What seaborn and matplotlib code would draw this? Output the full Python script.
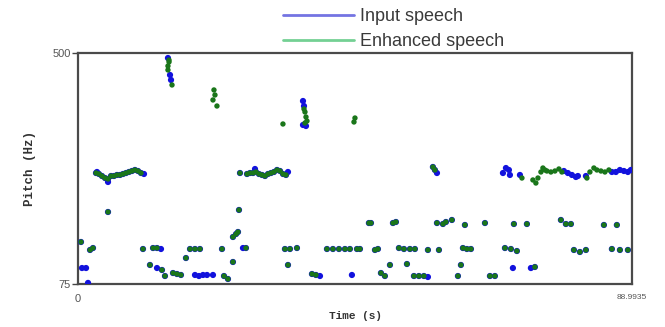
import matplotlib
matplotlib.use("Agg")
import matplotlib.pyplot as plt
import seaborn as sns
from matplotlib.lines import Line2D

# pitch tracks (time in s, pitch in Hz)
# points where both tracks sit on top of each other
shared_time = [
    2.89, 3.37, 3.85, 4.34, 4.82, 5.30, 5.78, 6.26, 6.75, 7.23, 7.71, 8.19, 8.67, 9.15, 9.64, 10.12,
    26.02, 27.15, 27.63, 28.11, 28.59, 29.07, 29.56, 30.04, 30.52, 31.00, 31.48, 31.97, 32.45, 32.93, 33.41,
    57.01, 57.33,
    0.48, 1.93, 2.41, 10.44, 12.05, 12.69, 11.56, 13.49, 13.97, 15.26, 15.90, 16.54, 17.34, 17.99, 18.79,
    19.59, 23.13, 23.45, 24.09, 24.89, 24.89, 25.39, 25.70, 26.98, 33.24, 34.05, 35.17, 33.73, 37.58, 38.22,
    39.99, 40.95, 41.92, 42.88, 43.68, 44.81, 46.73, 47.06, 50.59, 51.07, 45.29, 47.70, 48.18, 51.55, 52.36,
    53.32, 54.12, 56.21, 57.98, 61.83, 62.47, 63.12, 50.11, 52.84, 48.66, 49.30, 53.96, 54.76, 55.57, 61.03,
    61.51, 57.66, 58.62, 59.10, 60.06, 62.15, 65.37, 66.17, 66.97, 70.02, 72.11, 77.57, 78.37, 79.18, 84.48,
    86.56, 68.58, 69.54, 70.50, 79.66, 80.62, 81.59, 85.76, 87.05, 88.33, 73.39,
    4.82, 25.86,
]
shared_pitch = [
    279.2, 277.4, 273.7, 270.0, 268.2, 273.7, 273.7, 275.6, 275.6, 277.4, 279.2, 281.1, 282.9, 284.8, 282.9, 279.2,
    279.2, 277.4, 279.2, 279.2, 281.1, 277.4, 275.6, 273.7, 277.4, 279.2, 281.1, 284.8, 282.9, 277.4, 275.6,
    290.3, 284.8,
    152.3, 137.6, 141.2, 139.4, 141.2, 141.2, 110.0, 100.8, 89.7, 95.2, 93.4, 91.6, 122.8, 139.4, 139.4,
    139.4, 139.4, 89.7, 84.2, 115.5, 161.5, 167.0, 170.7, 141.2, 139.4, 139.4, 141.2, 110.0, 93.4, 91.6,
    139.4, 139.4, 139.4, 139.4, 139.4, 139.4, 187.2, 187.2, 187.2, 189.1, 139.4, 137.6, 139.4, 141.2, 139.4,
    139.4, 139.4, 137.6, 137.6, 141.2, 139.4, 139.4, 110.0, 111.8, 95.2, 89.7, 89.7, 89.7, 89.7, 89.7,
    110.0, 187.2, 185.4, 189.1, 192.8, 183.6, 187.2, 89.7, 89.7, 185.4, 185.4, 192.8, 185.4, 185.4, 183.6,
    183.6, 141.2, 139.4, 135.7, 137.6, 133.9, 137.6, 139.4, 137.6, 137.6, 106.3,
    207.5, 211.2,
]

# points where only the input track shows
input_time = [
    3.05, 4.82, 10.60, 28.43, 33.73, 57.66,
    68.26, 68.74, 69.22, 69.38, 70.99, 78.05, 78.69, 79.34, 79.98, 80.30, 81.59,
    85.76, 86.40, 87.05, 87.69, 88.33, 88.81,
    14.45, 14.78, 14.94, 36.14, 36.30, 36.14, 36.62,
    0.64, 1.29, 1.61, 13.33, 12.69, 18.79, 19.43, 20.08, 20.72, 21.68, 26.50, 38.87, 44.00, 56.21,
    69.86, 72.75,
]
input_pitch = [
    281.1, 262.7, 277.4, 286.6, 281.1, 279.2,
    279.2, 288.4, 284.8, 275.6, 275.6, 282.9, 279.2, 275.6, 271.9, 273.7, 273.7,
    281.1, 281.1, 284.8, 282.9, 281.1, 284.8,
    490.8, 459.6, 450.4, 411.7, 402.5, 367.6, 365.7,
    104.4, 104.4, 77.0, 139.4, 104.4, 91.6, 89.7, 91.6, 91.6, 91.6, 141.2, 89.7, 91.6, 87.9,
    104.4, 104.4,
]

# points where only the enhanced track shows
enhanced_time = [
    71.31, 73.07, 73.55, 73.88, 74.36, 74.68, 75.00, 75.32, 75.96, 76.61, 77.25, 77.73,
    81.75, 82.23, 82.87, 83.35, 84.00, 84.64, 85.28,
    14.62, 14.62, 14.45, 14.45, 15.10,
    21.84, 22.00, 21.68, 22.32, 32.92,
    36.30, 36.46, 36.62, 36.78, 36.46, 44.49, 44.33,
]
enhanced_pitch = [
    270.0, 266.4, 260.8, 270.0, 281.1, 288.4, 284.8, 282.9, 281.1, 282.9, 286.6, 281.1,
    270.0, 281.1, 288.4, 284.8, 282.9, 281.1, 284.8,
    487.0, 483.5, 476.1, 468.8, 441.2,
    432.0, 422.8, 413.6, 402.5, 369.4,
    397.0, 391.5, 382.3, 374.9, 371.2, 380.4, 373.1,
]

x_ticks = [0, 88.9935]
x_tick_labels = ["0", "88.9935"]
y_ticks = [75, 500]

blue = "#1212dd"
green = "#1a761a"

sns.set_style("white")
plt.rcParams["font.family"] = ["Liberation Sans", "DejaVu Sans"]

fig = plt.figure(figsize=(6.65, 3.27), dpi=100)
ax = fig.add_axes([0.1173, 0.1315, 0.8331, 0.7064])

sns.scatterplot(x=input_time + shared_time, y=input_pitch + shared_pitch,
                color=blue, s=20, edgecolor="none", ax=ax, legend=False, zorder=3)
sns.scatterplot(x=enhanced_time + shared_time, y=enhanced_pitch + shared_pitch,
                color=green, s=15, edgecolor="none", ax=ax, legend=False, zorder=4)

ax.set_xlim(0, 88.9935)
ax.set_ylim(75, 500)
ax.set_xticks(x_ticks)
ax.set_xticklabels(x_tick_labels)
ax.set_yticks(y_ticks)
ax.tick_params(axis="y", direction="out", length=4, width=1, color="#444444",
               labelsize=8, labelcolor="#555555", pad=1, left=True)
ax.tick_params(axis="x", length=0, labelsize=7, labelcolor="#555555", pad=7)
for lab in ax.get_xticklabels():
    lab.set_fontsize(8 if lab.get_text() == "0" else 6)

for sp in ax.spines.values():
    sp.set_color("#4a4a4a")
    sp.set_linewidth(1.6)

ax.set_xlabel("Time (s)", family="Liberation Mono", fontsize=8, color="#333333",
              fontweight="bold", labelpad=5)
ax.set_ylabel("Pitch (Hz)", family="Liberation Mono", fontsize=9, color="#333333",
              fontweight="bold", labelpad=12)

handles = [Line2D([], [], color="#7474e2", lw=2),
           Line2D([], [], color="#74d094", lw=2)]
fig.legend(handles, ["Input speech", "Enhanced speech"], loc="upper left",
           bbox_to_anchor=(0.41, 1.008), frameon=False, fontsize=13,
           handlelength=3.9, handletextpad=0.35, labelspacing=0.45,
           borderpad=0.1, labelcolor="#3a3a3a")

fig.savefig("out.png", dpi=100)
